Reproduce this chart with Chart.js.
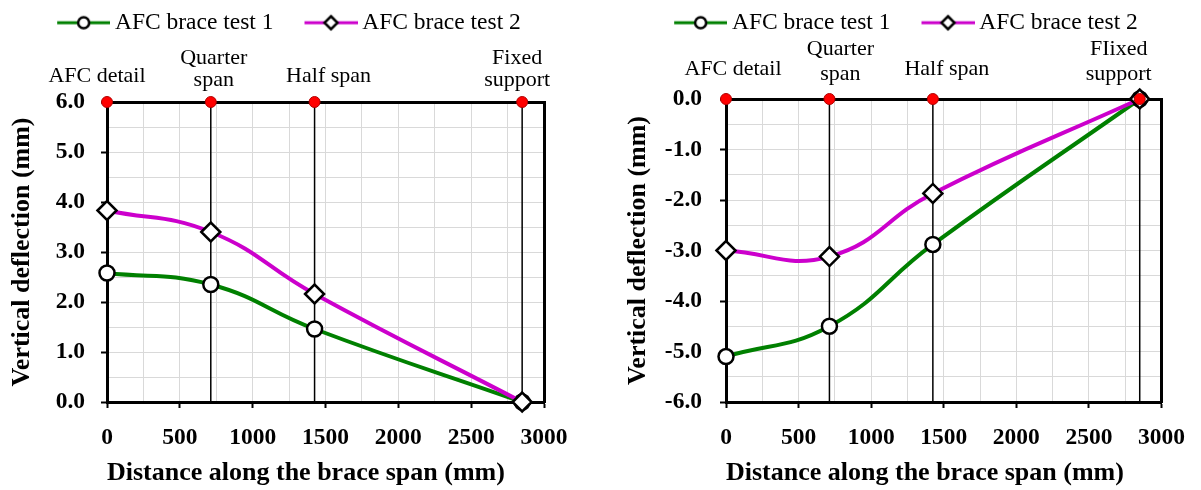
<!DOCTYPE html>
<html>
<head>
<meta charset="utf-8">
<script src="https://cdn.jsdelivr.net/npm/chart.js@4.4.1/dist/chart.umd.min.js"></script>
<style>
  body { margin: 0; background: #fff; }
  .panel { position: absolute; top: 0; height: 490px; }
</style>
</head>
<body>
<div class="panel" style="left:0;width:600px"><canvas id="leftChart" width="600" height="490"></canvas></div>
<div class="panel" style="left:600px;width:601px"><canvas id="rightChart" width="601" height="490"></canvas></div>
<script>
// measurement points along the brace (mm)
const distance = [0, 712.5, 1425, 2850];

// vertical deflection (mm)
const test1Left = [2.58, 2.35, 1.46, 0];
const test2Left = [3.83, 3.40, 2.16, 0];
const test1Right = [-5.10, -4.50, -2.88, 0];
const test2Right = [-3.00, -3.12, -1.87, 0];

const seriesNames = ['AFC brace test 1', 'AFC brace test 2'];
const spotNamesLeft = [['AFC detail'], ['Quarter', 'span'], ['Half span'], ['Fixed', 'support']];
const spotNamesRight = [['AFC detail'], ['Quarter', 'span'], ['Half span'], ['FIixed', 'support']];

const xTickLabels = [0, 500, 1000, 1500, 2000, 2500, 3000];
const yTickLabelsLeft = [0, 1, 2, 3, 4, 5, 6];
const yTickLabelsRight = [-6, -5, -4, -3, -2, -1, 0];

const SERIF = '"Liberation Serif", "Times New Roman", serif';
Chart.defaults.font.family = SERIF;
Chart.defaults.color = '#000';

// small legend icon: coloured line with the marker in the middle
function legendIcon(color, style) {
  const c = document.createElement('canvas');
  c.width = 80; c.height = 20;
  const g = c.getContext('2d');
  g.strokeStyle = color;
  g.lineWidth = 3;
  g.beginPath(); g.moveTo(27, 10); g.lineTo(80, 10); g.stroke();
  g.fillStyle = '#fff';
  g.strokeStyle = '#000';
  g.lineWidth = 2.5;
  g.beginPath();
  if (style === 'circle') {
    g.arc(53.5, 10, 5.5, 0, Math.PI * 2);
  } else {
    g.moveTo(53.5, 3.5); g.lineTo(60, 10); g.lineTo(53.5, 16.5); g.lineTo(47, 10); g.closePath();
  }
  g.fill(); g.stroke();
  return c;
}
const icons = [legendIcon('#008000', 'circle'), legendIcon('#cc00cc', 'diamond')];

// labels above the red markers
const spotLabels = {
  id: 'spotLabels',
  afterDraw(chart, args, opts) {
    const { ctx, chartArea, scales: { x } } = chart;
    ctx.save();
    ctx.font = '22px ' + SERIF;
    ctx.fillStyle = '#000';
    ctx.textAlign = 'center';
    ctx.textBaseline = 'middle';
    opts.names.forEach((lines, i) => {
      const px = x.getPixelForValue(distance[i]) + opts.dx[i];
      if (lines.length === 1) {
        ctx.fillText(lines[0], px, chartArea.top - opts.single);
      } else {
        lines.forEach((t, j) => ctx.fillText(t, px, chartArea.top - opts.multi[j]));
      }
    });
    ctx.restore();
  }
};

function makeChart(id, t1, t2, yMin, yMax, yMajor, names, lay) {
  const pts = (vals) => distance.map((x, i) => ({ x, y: vals[i] }));
  const spans = distance.flatMap((x) => [{ x, y: yMin }, { x, y: yMax }, { x, y: null }]);
  const tickFont = { size: 23.5, weight: 'bold', family: SERIF };
  const titleFont = { size: 26, weight: 'bold', family: SERIF };

  return new Chart(document.getElementById(id), {
    type: 'line',
    data: {
      datasets: [
        {
          label: seriesNames[0], data: pts(t1), order: 2, clip: false,
          borderColor: '#008000', borderWidth: 4, tension: 0.45,
          pointStyle: 'circle', pointRadius: 7.5, pointBorderWidth: 2.5,
          pointBorderColor: '#000', pointBackgroundColor: '#fff'
        },
        {
          label: seriesNames[1], data: pts(t2), order: 1, clip: false,
          borderColor: '#cc00cc', borderWidth: 4, tension: 0.45,
          pointStyle: 'rectRot', pointRadius: 9.5, pointBorderWidth: 2.5,
          pointBorderColor: '#000', pointBackgroundColor: '#fff'
        },
        {
          label: 'spots', data: distance.map((x) => ({ x, y: yMax })), order: 0, clip: false,
          showLine: false, pointRadius: 5.5, pointBorderWidth: 1,
          pointBackgroundColor: '#ff0000', pointBorderColor: '#b00000'
        },
        {
          label: 'spans', data: spans, order: 3, clip: false,
          borderColor: '#000', borderWidth: 1.5, pointRadius: 0, tension: 0, spanGaps: false
        }
      ]
    },
    options: {
      responsive: false,
      animation: false,
      events: [],
      layout: { padding: { left: 0, top: 0, bottom: 0, right: lay.padRight } },
      plugins: {
        tooltip: { enabled: false },
        legend: {
          position: 'top',
          align: 'center',
          labels: {
            usePointStyle: true,
            pointStyleWidth: 66,
            padding: 11,
            color: '#000',
            font: { size: 23.5, family: SERIF },
            generateLabels: () => seriesNames.map((text, i) => ({
              text, pointStyle: icons[i], datasetIndex: i, hidden: false,
              lineWidth: 0, fillStyle: 'transparent', strokeStyle: 'transparent', fontColor: '#000'
            }))
          }
        },
        spotLabels: { names, dx: lay.dx, single: lay.single, multi: lay.multi }
      },
      scales: {
        x: {
          type: 'linear', min: 0, max: 3000,
          afterFit: (s) => { s.height = 88; },
          grid: {
            color: '#d9d9d9', lineWidth: 1, tickLength: 6, tickWidth: 2,
            tickColor: (c) => (c.tick && xTickLabels.includes(c.tick.value) ? '#000' : 'rgba(0,0,0,0)')
          },
          border: { color: '#000', width: 3 },
          ticks: {
            stepSize: 250, autoSkip: false, maxRotation: 0, padding: 16, font: tickFont, color: '#000',
            callback: (v) => (xTickLabels.includes(v) ? String(v) : '')
          },
          title: {
            display: true, text: 'Distance along the brace span (mm)', align: 'start',
            font: titleFont, color: '#000', padding: { top: 0, bottom: 1 }
          }
        },
        y: {
          min: yMin, max: yMax,
          afterFit: (s) => { s.width = lay.yWidth; },
          grid: {
            color: '#d9d9d9', lineWidth: 1, tickLength: 6, tickWidth: 2,
            tickColor: (c) => (c.tick && yMajor.includes(c.tick.value) ? '#000' : 'rgba(0,0,0,0)')
          },
          border: { color: '#000', width: 3 },
          ticks: {
            stepSize: 0.5, autoSkip: false, padding: lay.yTickPad, font: tickFont, color: '#000',
            callback: (v) => (yMajor.includes(v) ? v.toFixed(1) : '')
          },
          title: {
            display: true, text: 'Vertical deflection (mm)',
            font: titleFont, color: '#000', padding: { top: lay.yTitlePad, bottom: 0 }
          }
        },
        x2: {
          type: 'linear', position: 'top', min: 0, max: 3000,
          afterFit: (s) => { s.height = lay.topHeight; },
          grid: { display: false, drawTicks: false },
          border: { color: '#000', width: 3 },
          ticks: { display: false }
        },
        y2: {
          type: 'linear', position: 'right', min: yMin, max: yMax,
          afterFit: (s) => { s.width = lay.y2Width; },
          grid: { display: false, drawTicks: false },
          border: { color: '#000', width: 3 },
          ticks: { display: false }
        }
      }
    },
    plugins: [spotLabels]
  });
}

makeChart('leftChart', test1Left, test2Left, 0, 6, yTickLabelsLeft, spotNamesLeft, {
  padRight: 42, y2Width: 14, yWidth: 107, topHeight: 57.5,
  yTickPad: 16, yTitlePad: 7,
  dx: [-10, 3, 14, -5], single: 26, multi: [44, 22]
});

makeChart('rightChart', test1Right, test2Right, -6, 0, yTickLabelsRight, spotNamesRight, {
  padRight: 9, y2Width: 24, yWidth: 126, topHeight: 54.5,
  yTickPad: 18, yTitlePad: 23,
  dx: [7, 11, 14, -21], single: 30, multi: [50, 25]
});
</script>
</body>
</html>
